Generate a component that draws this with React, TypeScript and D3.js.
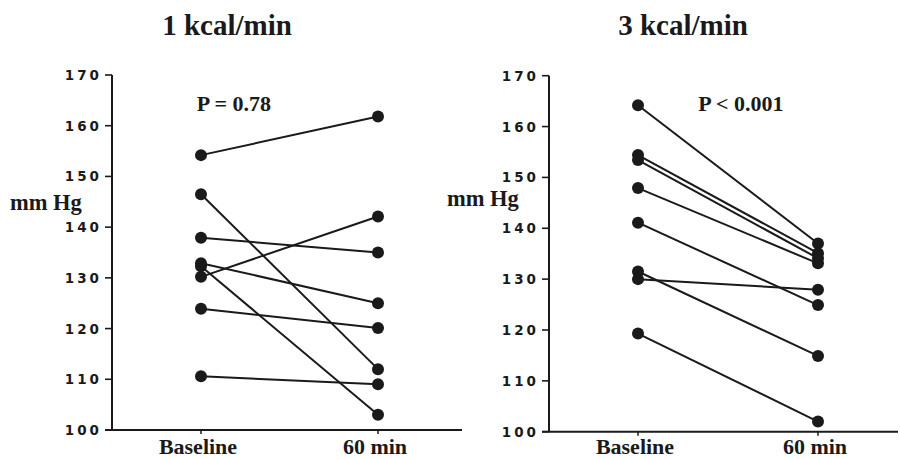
import React from "react";
import * as d3 from "d3";

const timepoints = ["Baseline", "60 min"];
const yTicks = [100, 110, 120, 130, 140, 150, 160, 170];

// 1 kcal/min panel: [baseline, 60 min] per subject
const low_baseline = [154.2, 146.5, 137.9, 132.9, 132.3, 130.2, 123.9, 110.6];
const low_60min = [161.8, 112.0, 135.0, 125.0, 103.0, 142.1, 120.1, 109.0];

// 3 kcal/min panel
const high_baseline = [164.2, 154.4, 153.4, 147.9, 141.1, 131.5, 130.0, 119.3];
const high_60min = [137.0, 135.1, 134.1, 133.1, 124.9, 114.9, 127.9, 102.0];

const panels = [
  {
    title: "1 kcal/min",
    pText: "P = 0.78",
    base: low_baseline,
    post: low_60min,
    axisX: 112,
    axisRight: 462,
    yTop: 75,
    yBottom: 430,
    xRange: [201, 378],
    titleX: 227,
    pX: 234,
    mmX: 10,
    mmY: 210,
  },
  {
    title: "3 kcal/min",
    pText: "P < 0.001",
    base: high_baseline,
    post: high_60min,
    axisX: 549,
    axisRight: 898,
    yTop: 75.7,
    yBottom: 431.7,
    xRange: [638, 818],
    titleX: 683,
    pX: 741,
    mmX: 447,
    mmY: 206,
  },
];

const serif = "'Liberation Serif', 'Times New Roman', serif";
const sans = "'DejaVu Sans', 'Liberation Sans', sans-serif";
const LS = 3;

function Panel({ p }: { p: (typeof panels)[number] }) {
  const y = d3.scaleLinear().domain([100, 170]).range([p.yBottom, p.yTop]);
  const x = d3.scalePoint<string>().domain(timepoints).range(p.xRange as [number, number]);
  const pairs = p.base.map((b, i) => [b, p.post[i]]);
  return (
    <g>
      <text x={p.titleX} y={35} textAnchor="middle" fontFamily={serif} fontWeight="bold" fontSize={29} fill="#1a1a1a">
        {p.title}
      </text>
      <text x={p.pX} y={111} textAnchor="middle" fontFamily={serif} fontWeight="bold" fontSize={22} fill="#1a1a1a">
        {p.pText}
      </text>
      <text x={p.mmX} y={p.mmY} fontFamily={serif} fontWeight="bold" fontSize={22.5} fill="#1a1a1a">
        mm Hg
      </text>
      {/* axes */}
      <line x1={p.axisX} x2={p.axisX} y1={y(170)} y2={y(100)} stroke="#1a1a1a" strokeWidth={2} />
      <line x1={p.axisX - 7} x2={p.axisRight} y1={y(100)} y2={y(100)} stroke="#1a1a1a" strokeWidth={2} />
      {yTicks.map((t) => (
        <g key={t}>
          <line x1={p.axisX - 7} x2={p.axisX} y1={y(t)} y2={y(t)} stroke="#1a1a1a" strokeWidth={1.6} />
          <text
            x={p.axisX - 13 + LS}
            y={y(t) + 5}
            textAnchor="end"
            fontFamily={sans}
            fontWeight="bold"
            fontSize={13.5}
            letterSpacing={LS}
            fill="#1a1a1a"
          >
            {t}
          </text>
        </g>
      ))}
      {timepoints.map((tp) => (
        <g key={tp}>
          <line x1={x(tp)} x2={x(tp)} y1={y(100)} y2={y(100) + 4} stroke="#1a1a1a" strokeWidth={1.5} />
          <text x={(x(tp) as number) - 3} y={454} textAnchor="middle" fontFamily={serif} fontWeight="bold" fontSize={22} fill="#1a1a1a">
            {tp}
          </text>
        </g>
      ))}
      {pairs.map((pr, i) => (
        <line
          key={"l" + i}
          x1={x(timepoints[0])}
          y1={y(pr[0])}
          x2={x(timepoints[1])}
          y2={y(pr[1])}
          stroke="#1a1a1a"
          strokeWidth={2}
        />
      ))}
      {pairs.map((pr, i) => (
        <g key={"c" + i}>
          <circle cx={x(timepoints[0])} cy={y(pr[0])} r={6} fill="#1a1a1a" />
          <circle cx={x(timepoints[1])} cy={y(pr[1])} r={6} fill="#1a1a1a" />
        </g>
      ))}
    </g>
  );
}

export default function App() {
  return (
    <svg width={900} height={460} style={{ position: "absolute", left: 0, top: 0, background: "#fff" }}>
      <rect width={900} height={460} fill="#fff" />
      {panels.map((p) => (
        <Panel key={p.title} p={p} />
      ))}
    </svg>
  );
}
